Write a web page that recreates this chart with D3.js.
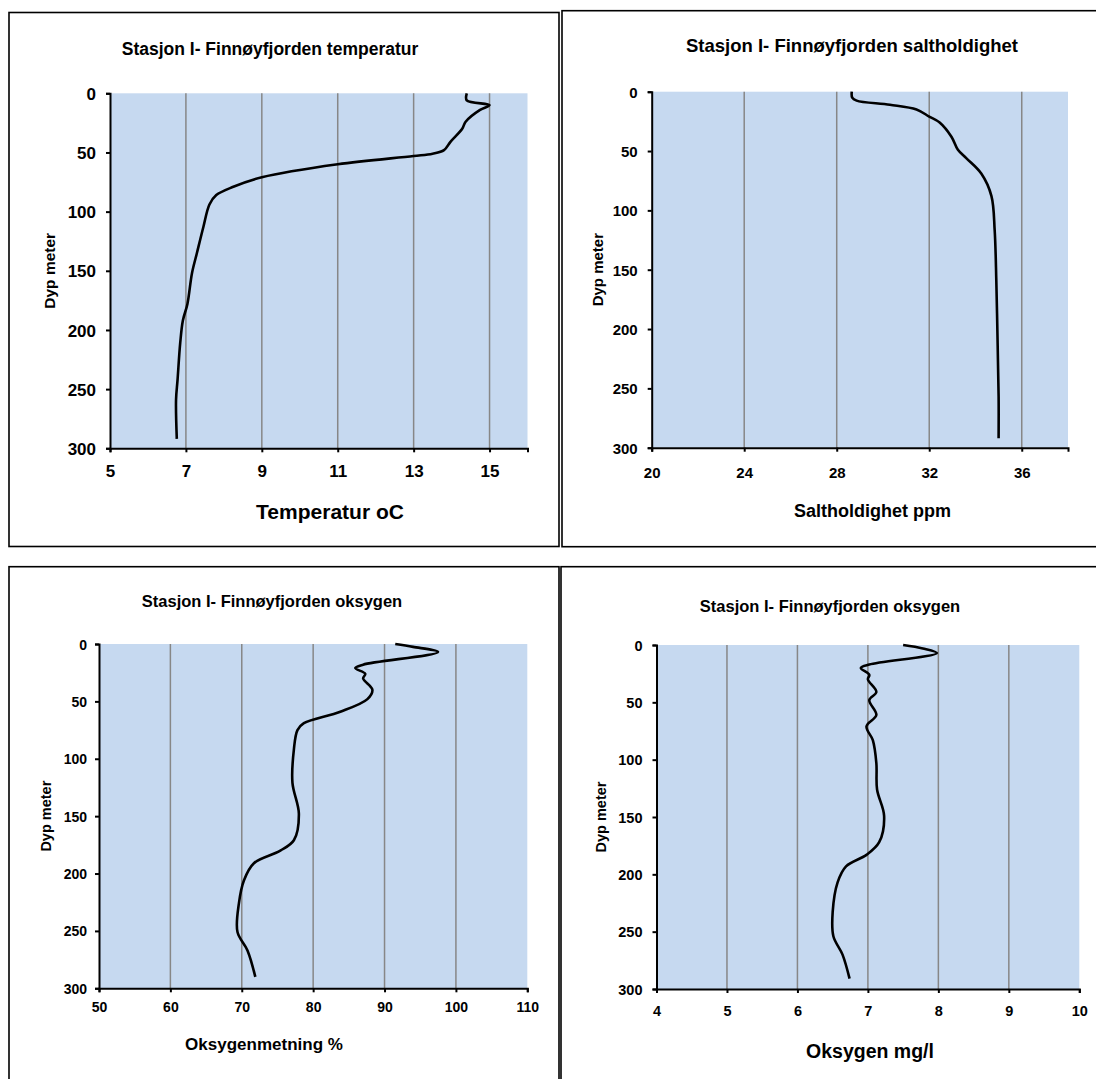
<!DOCTYPE html>
<html>
<head>
<meta charset="utf-8">
<script src="https://cdn.jsdelivr.net/npm/d3@7"></script>
<style>
  body { margin:0; background:#fff; }
  svg { display:block; }
  text { font-family:"Liberation Sans", Arial, sans-serif; font-weight:bold; fill:#000; }
</style>
</head>
<body>
<div id="chart"></div>
<script>
//---data (depth in meter)---
var depthTicks=[0,50,100,150,200,250,300]

var tempDepth=[0,6,10,14,24,30,41,48,51,53,60,71,79,86,94,113,135,152,178,192,211,242,259,292]
var tempValues=[14.4,14.4,15.0,14.75,14.37,14.28,13.97,13.8,13.5,13.0,11.0,9.0,8.25,7.8,7.62,7.46,7.29,7.16,7.04,6.92,6.85,6.78,6.74,6.76]
var tempTicks=[5,7,9,11,13,15]

var salDepth=[0,5,7.5,11,15,21,26,38,49,56,69,88,117,159,215,257,292]
var salValues=[28.65,28.67,28.86,30.3,31.45,32.0,32.45,32.96,33.24,33.6,34.25,34.69,34.83,34.9,34.96,35.0,35.0]
var salTicks=[20,24,28,32,36]

var oxySatDepth=[0,2.5,7,18,21,26,30,40,48,59,69,75,92,121,148,171,180,191,206,226,251,267,290]
var oxySatValues=[91.5,94.0,97.5,87.0,85.9,87.3,87.0,88.3,87.6,83.8,78.7,77.8,77.3,77.1,78.0,77.3,75.4,71.7,70.3,69.6,69.4,70.8,71.9]
var oxySatTicks=[50,60,70,80,90,100,110]

var oxyMgDepth=[0,3,7,17,20,26,30,41,48,61,71,83,103,126,149,172,183,193,207,233,254,270,291]
var oxyMgValues=[7.5,7.78,7.98,7.02,6.9,7.02,7.0,7.12,7.02,7.12,6.98,7.07,7.12,7.13,7.23,7.16,6.98,6.69,6.57,6.5,6.51,6.64,6.74]
var oxyMgTicks=[4,5,6,7,8,9,10]

var W=1096, H=1079
var svg=d3.select("#chart").append("svg")
  .attr("width",W).attr("height",H)
  .attr("viewBox","0 0 "+W+" "+H)

//---one panel per chart---
var panels=[
 {title:"Stasjon I- Finnøyfjorden temperatur", xTitle:"Temperatur oC",
  depth:tempDepth, values:tempValues, ticks:tempTicks, domain:[5,16],
  box:[9,12.5,550,534], plot:[110,93.3,527.5,448.3],
  titleXY:[270,55], titleSize:17.5, xTitleXY:[330,519], xTitleSize:21,
  tickSize:17, xTickBase:29, yTickGap:10, yLabelX:55, yLabelSize:15.5},
 {title:"Stasjon I- Finnøyfjorden saltholdighet", xTitle:"Saltholdighet ppm",
  depth:salDepth, values:salValues, ticks:salTicks, domain:[20,38],
  box:[562,10.7,600,536], plot:[651.7,91.7,1068,447.7],
  titleXY:[852,52], titleSize:18.5, xTitleXY:[872.5,517], xTitleSize:18,
  tickSize:15, xTickBase:30, yTickGap:10, yLabelX:603, yLabelSize:15},
 {title:"Stasjon I- Finnøyfjorden oksygen", xTitle:"Oksygenmetning %",
  depth:oxySatDepth, values:oxySatValues, ticks:oxySatTicks, domain:[50,110],
  box:[9,566.7,550,600], plot:[99,644,527.3,988.3],
  titleXY:[272,606.7], titleSize:16.5, xTitleXY:[264,1050], xTitleSize:17,
  tickSize:14, xTickBase:24, yTickGap:8, yLabelX:51, yLabelSize:14.5},
 {title:"Stasjon I- Finnøyfjorden oksygen", xTitle:"Oksygen mg/l",
  depth:oxyMgDepth, values:oxyMgValues, ticks:oxyMgTicks, domain:[4,10],
  box:[561,566.7,600,600], plot:[656.5,645,1079.3,989],
  titleXY:[830,612], titleSize:16.5, xTitleXY:[870,1058], xTitleSize:19.5,
  tickSize:14.5, xTickBase:27, yTickGap:10, yLabelX:606, yLabelSize:14.5}
]

panels.forEach(function(p){
  var g=svg.append("g")
  var x0=p.plot[0], y0=p.plot[1], x1=p.plot[2], y1=p.plot[3]
  var x=d3.scaleLinear().domain(p.domain).range([x0,x1])
  var y=d3.scaleLinear().domain([0,300]).range([y0,y1])

  //---frame---
  g.append("rect")
   .attr("x",p.box[0]).attr("y",p.box[1])
   .attr("width",p.box[2]).attr("height",p.box[3])
   .attr("fill","none").attr("stroke","#000").attr("stroke-width",1.6)

  //---plot area---
  g.append("rect")
   .attr("x",x0).attr("y",y0).attr("width",x1-x0).attr("height",y1-y0)
   .attr("fill","#C6D9F0")

  //---vertical gridlines---
  g.selectAll(".grid").data(p.ticks.filter(function(t){return t>p.domain[0]&&t<p.domain[1]}))
   .enter().append("line")
   .attr("x1",function(d){return x(d)}).attr("x2",function(d){return x(d)})
   .attr("y1",y0).attr("y2",y1)
   .attr("stroke","#878787").attr("stroke-width",1.5)

  //---axes---
  var xAxis=g.append("g").attr("transform","translate(0,"+y1+")")
   .call(d3.axisBottom(x).tickValues(p.ticks).tickSize(4).tickFormat(d3.format("d")))
  var yAxis=g.append("g").attr("transform","translate("+x0+",0)")
   .call(d3.axisLeft(y).tickValues(depthTicks).tickSize(4).tickPadding(p.yTickGap).tickFormat(d3.format("d")))
  ;[xAxis,yAxis].forEach(function(a){
    a.select(".domain").attr("stroke","#000").attr("stroke-width",2)
    a.selectAll(".tick line").attr("stroke","#000").attr("stroke-width",2)
    a.selectAll(".tick text").style("font-size",p.tickSize+"px")
     .style("font-family","'Liberation Sans', Arial, sans-serif").style("font-weight","bold").attr("fill","#000")
  })
  yAxis.selectAll(".tick text").attr("dy","0.36em")
  xAxis.selectAll(".tick text").attr("y",p.xTickBase).attr("dy",null)

  //---profile line---
  var pts=p.depth.map(function(d,i){return [p.values[i],d]})
  g.append("path").datum(pts)
   .attr("fill","none").attr("stroke","#000").attr("stroke-width",2.6)
   .attr("stroke-linejoin","round").attr("stroke-linecap","butt")
   .attr("d",d3.line().x(function(d){return x(d[0])}).y(function(d){return y(d[1])})
     .curve(d3.curveCatmullRom.alpha(0.5)))

  //---titles---
  g.append("text").attr("x",p.titleXY[0]).attr("y",p.titleXY[1])
   .attr("text-anchor","middle").style("font-size",p.titleSize+"px").text(p.title)
  g.append("text").attr("x",p.xTitleXY[0]).attr("y",p.xTitleXY[1])
   .attr("text-anchor","middle").style("font-size",p.xTitleSize+"px").text(p.xTitle)
  g.append("text")
   .attr("transform","translate("+p.yLabelX+","+((y0+y1)/2)+") rotate(-90)")
   .attr("text-anchor","middle").style("font-size",p.yLabelSize+"px").text("Dyp meter")
})
</script>
</body>
</html>
